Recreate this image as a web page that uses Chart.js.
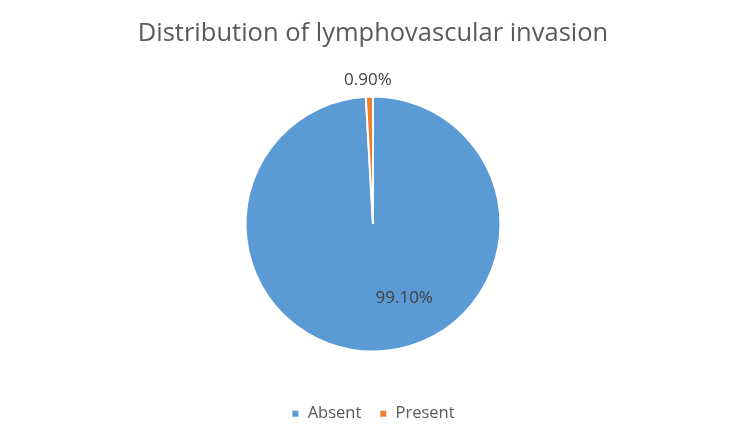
<!DOCTYPE html>
<html>
<head>
<meta charset="utf-8">
<script src="https://cdn.jsdelivr.net/npm/chart.js@4.4.1/dist/chart.umd.min.js"></script>
<style>
  html, body { margin: 0; padding: 0; background: #fff; }
  #wrap { width: 750px; height: 445px; }
</style>
</head>
<body>
<div id="wrap"><canvas id="myChart"></canvas></div>
<script>
'use strict';

const categories = ['Absent', 'Present'];
const percents = [99.10, 0.90];
const colors = ['#5B9BD5', '#ED7D31'];

const legendGap = 35; // legend sits lower than the layout would put it

// draw the percent labels, first one inside the slice, small one outside
const pieLabels = {
  id: 'pieLabels',
  afterLayout(chart) {
    // push the legend down into the bottom padding
    chart.legend.top += legendGap;
    chart.legend.bottom += legendGap;
  },
  afterDatasetsDraw(chart) {
    const ctx = chart.ctx;
    const arcs = chart.getDatasetMeta(0).data;
    ctx.save();
    ctx.font = '17px "Open Sans", sans-serif';
    ctx.fillStyle = '#404040';
    ctx.textAlign = 'center';
    ctx.textBaseline = 'middle';
    for (let i = 0; i < arcs.length; i++) {
      const a = arcs[i];
      const text = percents[i].toFixed(2) + '%';
      let x, y;
      if (percents[i] > 50) {
        x = a.x + a.outerRadius * 0.245;
        y = a.y + a.outerRadius * 0.58;
      } else {
        const mid = (a.startAngle + a.endAngle) / 2;
        const r = a.outerRadius + 17;
        x = a.x + Math.cos(mid) * r - 1;
        y = a.y + Math.sin(mid) * r;
      }
      ctx.fillText(text, x, y);
    }
    ctx.restore();
  }
};

new Chart(document.getElementById('myChart'), {
  type: 'pie',
  data: {
    labels: categories,
    datasets: [{
      data: percents,
      backgroundColor: colors,
      borderColor: '#ffffff',
      borderWidth: 2
    }]
  },
  options: {
    responsive: true,
    maintainAspectRatio: false,
    animation: false,
    layout: { padding: { left: 0, right: 4, bottom: 48 } },
    plugins: {
      title: {
        display: true,
        text: 'Distribution of lymphovascular invasion',
        color: '#595959',
        font: { family: '"Open Sans", sans-serif', size: 25.5, weight: 'normal' },
        padding: { top: 18, bottom: 47 }
      },
      legend: {
        position: 'bottom',
        labels: {
          color: '#595959',
          font: { family: '"Open Sans", sans-serif', size: 16.5 },
          boxWidth: 8,
          boxHeight: 8,
          padding: 18
        }
      },
      tooltip: { enabled: false }
    }
  },
  plugins: [pieLabels]
});
</script>
</body>
</html>
